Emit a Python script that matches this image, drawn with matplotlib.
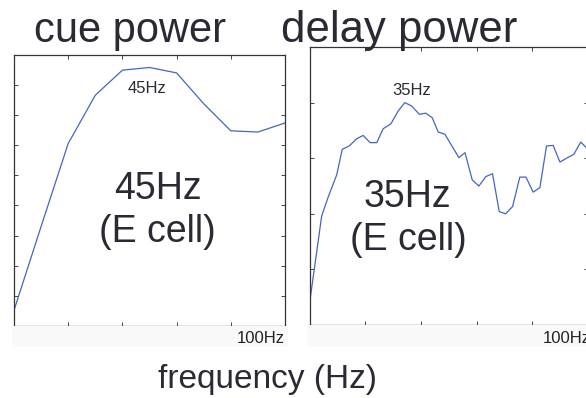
import numpy as np
import matplotlib.pyplot as plt
from matplotlib.patches import Rectangle

plt.rcParams['font.family'] = ['Liberation Sans', 'DejaVu Sans']

# spectre de puissance pendant le cue (cellule E)
cue_freq = [0, 10, 20, 30, 40, 50, 60, 70, 80, 90, 100]
cue_power = [0.52, 3.3, 6.05, 7.65, 8.48, 8.57, 8.39, 7.37, 6.47, 6.43, 6.73]

# spectre de puissance pendant le delay (cellule E)
delay_freq = [0.0, 4.3, 6.7, 9.7, 11.7, 14.2, 16.9, 19.2, 21.7, 24.1, 26.4, 29.2,
              31.8, 34.2, 36.6, 39.4, 41.7, 44.0, 46.2, 48.6, 51.1, 53.6, 55.8,
              58.4, 60.8, 63.3, 65.7, 68.1, 70.4, 72.9, 75.5, 77.7, 80.3, 82.7,
              85.1, 87.5, 89.9, 92.3, 94.9, 97.4, 99.2, 100.0]
delay_power = [0.41, 1.96, 2.31, 2.70, 3.16, 3.22, 3.35, 3.41, 3.28, 3.28, 3.53, 3.62,
               3.85, 4.00, 3.94, 3.79, 3.81, 3.73, 3.47, 3.43, 3.22, 3.01, 3.10,
               2.61, 2.50, 2.67, 2.72, 2.04, 2.00, 2.13, 2.66, 2.66, 2.39, 2.47,
               3.22, 3.23, 2.93, 3.00, 3.07, 3.29, 3.20, 3.12]

xticks = [20, 40, 60, 80]
line_col = '#4466c2'
txt_col = '#2a2a35'

W, H = 586, 398
fig = plt.figure(figsize=(W / 100, H / 100), dpi=100)
fig.patch.set_facecolor('white')

def fx(px):
    return px / W

def fy(py):
    return (H - py) / H

# fond gris très clair sous les axes (copie d'écran matlab)
fig.patches.append(Rectangle((fx(12), fy(347)), fx(276), fy(326) - fy(347),
                             transform=fig.transFigure, facecolor='#f9f9f9',
                             edgecolor='none', zorder=0))
fig.patches.append(Rectangle((fx(307), fy(347)), fx(282), fy(325) - fy(347),
                             transform=fig.transFigure, facecolor='#f9f9f9',
                             edgecolor='none', zorder=0))

ax1 = fig.add_axes([fx(14), fy(326), fx(285 - 14), fy(54.5) - fy(326)])
ax2 = fig.add_axes([fx(309.7), fy(325), fx(588 - 309.7), fy(47) - fy(325)])

ax1.plot(cue_freq, cue_power, color=line_col, lw=0.9)
ax1.set_xlim(0, 100)
ax1.set_ylim(0, 9)
ax1.set_yticks(range(1, 9))

ax2.plot(delay_freq, delay_power, color=line_col, lw=0.9)
ax2.set_xlim(0, 100)
ax2.set_ylim(0, 5)
ax2.set_yticks(range(1, 5))

for ax in (ax1, ax2):
    ax.set_xticks(xticks)
    ax.tick_params(direction='in', length=3, width=0.7, color='#444444',
                   top=True, right=True, labelbottom=False, labelleft=False)
    for s in ax.spines.values():
        s.set_color('#333333')
        s.set_linewidth(0.9)

# titres
fig.text(fx(130), fy(41.7), 'cue power', fontsize=30, color=txt_col,
         ha='center', va='baseline')
fig.text(fx(399), fy(41.7), 'delay power', fontsize=31.5, color=txt_col,
         ha='center', va='baseline')

# annotations des pics
fig.text(fx(147), fy(93), '45Hz', fontsize=12, color=txt_col, ha='center', va='baseline')
fig.text(fx(412), fy(95), '35Hz', fontsize=12, color=txt_col, ha='center', va='baseline')

fig.text(fx(158), fy(199), '45Hz', fontsize=27, color=txt_col, ha='center', va='baseline')
fig.text(fx(157), fy(242), '(E cell)', fontsize=27, color=txt_col, ha='center', va='baseline')
fig.text(fx(407), fy(207), '35Hz', fontsize=27, color=txt_col, ha='center', va='baseline')
fig.text(fx(408), fy(250), '(E cell)', fontsize=27, color=txt_col, ha='center', va='baseline')

# labels 100Hz (le second est coupé par le bord, comme dans l'original)
fig.text(fx(285), fy(343), '100Hz', fontsize=12, color='#222222', ha='right', va='baseline')
fig.text(fx(591), fy(343), '100Hz', fontsize=12, color='#222222', ha='right', va='baseline')

fig.text(fx(268), fy(388), 'frequency (Hz)', fontsize=24, color=txt_col,
         ha='center', va='baseline')

fig.savefig('out.png', dpi=100)
